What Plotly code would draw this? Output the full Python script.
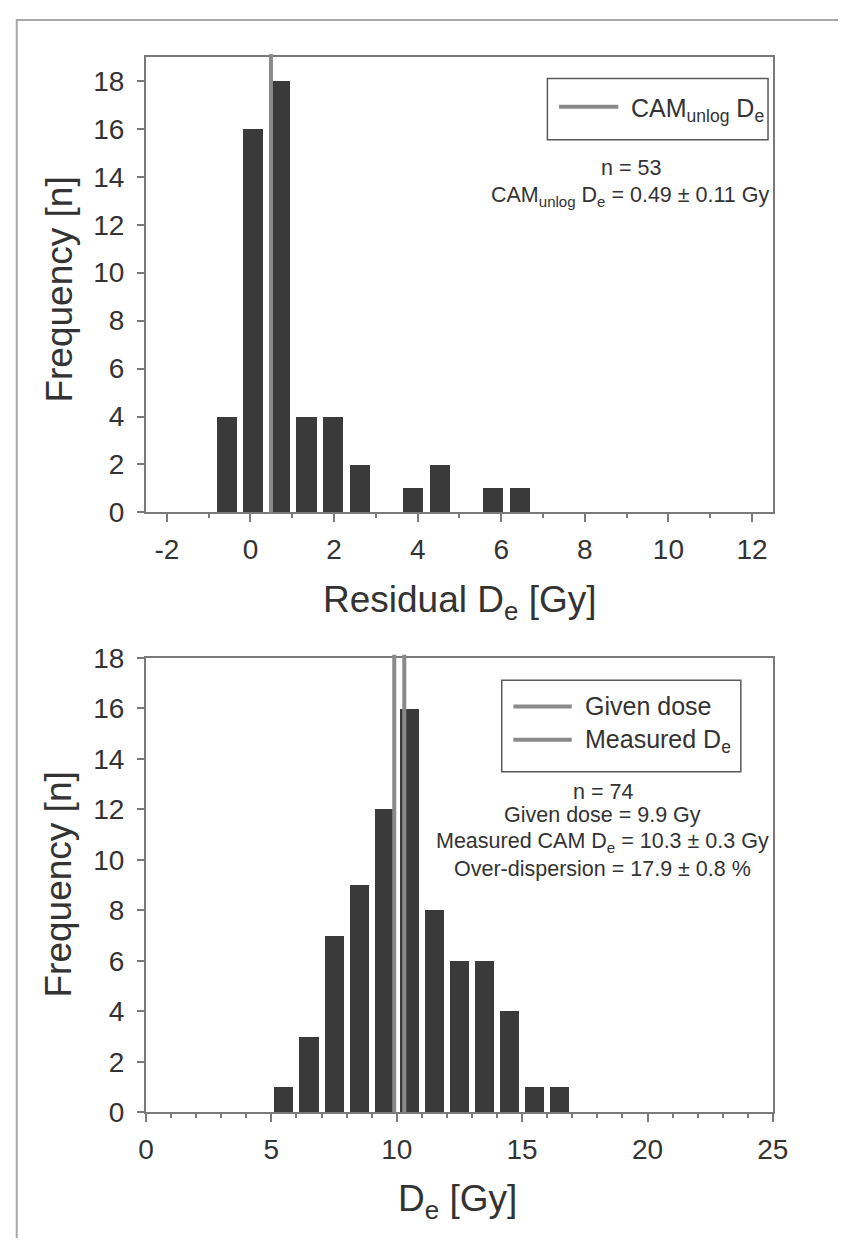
import plotly.graph_objects as go

# Residual De histogram (upper panel)
res_centers = [-0.56, 0.07, 0.71, 1.34, 1.98, 2.62, 3.25, 3.89, 4.53, 5.16, 5.80, 6.44]
res_counts = [4, 16, 18, 4, 4, 2, 0, 1, 2, 0, 1, 1]
res_tickvals = [-2, 0, 2, 4, 6, 8, 10, 12]
res_ticktext = ["-2", "0", "2", "4", "6", "8", "10", "12"]
cam_unlog_de = 0.49

# Measured De histogram (lower panel)
de_centers = [5.5, 6.5, 7.5, 8.5, 9.5, 10.5, 11.5, 12.5, 13.5, 14.5, 15.5, 16.5]
de_counts = [1, 3, 7, 9, 12, 16, 8, 6, 6, 4, 1, 1]
given_dose = 9.9
measured_de = 10.3

W, H = 854, 1254
BAR = "#3a3a3a"
REF_LINE = "#8a8a8a"
AXIS = "#7a7a7a"
TEXT = "#333333"
FONT = "Liberation Sans, Arial, sans-serif"


def px(x):
    return x / W


def py(y):
    return 1 - y / H


fig = go.Figure()
fig.add_trace(go.Bar(x=res_centers, y=res_counts, width=0.48,
                     marker=dict(color=BAR, line=dict(width=0)),
                     xaxis="x", yaxis="y", showlegend=False))
fig.add_trace(go.Bar(x=de_centers, y=de_counts, width=0.76,
                     marker=dict(color=BAR, line=dict(width=0)),
                     xaxis="x2", yaxis="y2", showlegend=False))

axis_common = dict(showline=True, mirror=True, linecolor=AXIS, linewidth=2,
                   showgrid=False, zeroline=False, ticks="outside",
                   tickcolor=AXIS, tickwidth=1.5,
                   tickfont=dict(size=28, color=TEXT, family=FONT))

fig.update_layout(
    width=W, height=H,
    margin=dict(l=0, r=0, t=0, b=0),
    paper_bgcolor="white", plot_bgcolor="white",
    font=dict(family=FONT, color=TEXT),
    bargap=0,
    xaxis=dict(domain=[px(142), px(787)], anchor="y", range=[-2.5, 12.5],
               tickmode="array", tickvals=res_tickvals, ticktext=res_ticktext,
               ticklen=8, ticklabelstandoff=3,
               minor=dict(dtick=1, tick0=0, ticks="outside", ticklen=4, tickcolor=AXIS),
               **axis_common),
    yaxis=dict(domain=[py(510), py(43)], anchor="x", range=[0, 19],
               tick0=0, dtick=2, ticklen=7, ticklabelstandoff=7,
               **axis_common),
    xaxis2=dict(domain=[px(142), px(787)], anchor="y2", range=[0, 25],
                tick0=0, dtick=5, ticklen=8, ticklabelstandoff=3,
                minor=dict(dtick=1, ticks="outside", ticklen=4, tickcolor=AXIS),
                **axis_common),
    yaxis2=dict(domain=[py(1125), py(659)], anchor="x2", range=[0, 18],
                tick0=0, dtick=2, ticklen=7, ticklabelstandoff=7,
                **axis_common),
)

shapes = []
# reference dose lines, running a touch past the top frame
shapes.append(dict(type="line", xref="x", yref="paper", x0=cam_unlog_de, x1=cam_unlog_de,
                   y0=py(510), y1=py(40), line=dict(color=REF_LINE, width=4)))
for v in (given_dose, measured_de):
    shapes.append(dict(type="line", xref="x2", yref="paper", x0=v, x1=v,
                       y0=py(1125), y1=py(656), line=dict(color=REF_LINE, width=4)))

# legend frames and line samples
shapes.append(dict(type="rect", xref="paper", yref="paper", x0=px(555), x1=px(782),
                   y0=py(128), y1=py(65), line=dict(color="#5a5a5a", width=1.5)))
shapes.append(dict(type="line", xref="paper", yref="paper", x0=px(567), x1=px(628),
                   y0=py(94), y1=py(94), line=dict(color=REF_LINE, width=4)))
shapes.append(dict(type="rect", xref="paper", yref="paper", x0=px(508), x1=px(754),
                   y0=py(776), y1=py(682), line=dict(color="#5a5a5a", width=1.5)))
for yy in (709, 743):
    shapes.append(dict(type="line", xref="paper", yref="paper", x0=px(520), x1=px(580),
                       y0=py(yy), y1=py(yy), line=dict(color=REF_LINE, width=4)))

# outer frame (left and top edges)
shapes.append(dict(type="path", xref="paper", yref="paper",
                   path=f"M {px(9)} {py(1254)} L {px(9)} {py(5)} L {px(854)} {py(5)}",
                   line=dict(color="#a8a8a8", width=2)))
fig.update_layout(shapes=shapes)


def note(text, x, y, size, anchor="center", angle=0):
    return dict(text=text, x=px(x), y=py(y), xref="paper", yref="paper",
                xanchor=anchor, yanchor="middle", showarrow=False, textangle=angle,
                font=dict(size=size, color=TEXT, family=FONT))


annotations = [
    # axis titles
    note("Frequency [n]", 52, 282, 37, angle=-90),
    note("Residual D<sub>e</sub> [Gy]", 465, 602, 37),
    note("Frequency [n]", 52, 892, 37, angle=-90),
    note("D<sub>e</sub> [Gy]", 463, 1216, 37),
    # legend labels
    note("CAM<sub>unlog</sub> D<sub>e</sub>", 639, 97, 25, anchor="left"),
    note("Given dose", 592, 709, 25, anchor="left"),
    note("Measured D<sub>e</sub>", 592, 744, 25, anchor="left"),
    # statistics
    note("n = 53", 641, 157, 21.5),
    note("CAM<sub>unlog</sub> D<sub>e</sub> = 0.49 ± 0.11 Gy", 641, 186, 21.5),
    note("n = 74", 612, 797, 21.5),
    note("Given dose = 9.9 Gy", 612, 820, 21.5),
    note("Measured CAM D<sub>e</sub> = 10.3 ± 0.3 Gy", 612, 848, 21.5),
    note("Over-dispersion = 17.9 ± 0.8 %", 612, 876, 21.5),
]
fig.update_layout(annotations=annotations)

fig.write_html("out.html")
